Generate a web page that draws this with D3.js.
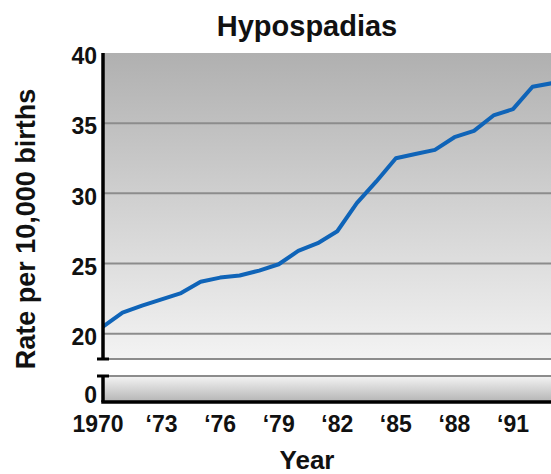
<!DOCTYPE html>
<html>
<head>
<meta charset="utf-8">
<script src="https://cdn.jsdelivr.net/npm/d3@7"></script>
<style>
body { margin: 0; background: #fff; }
text { font-family: "Liberation Sans", Arial, sans-serif; font-weight: bold; fill: #111; }
</style>
</head>
<body>
<div class="chart"></div>
<script>
var years = [1970, 1971, 1972, 1973, 1974, 1975, 1976, 1977, 1978, 1979, 1980, 1981,
	1982, 1983, 1984, 1985, 1986, 1987, 1988, 1989, 1990, 1991, 1992, 1993];
var rates = [20.5, 21.5, 22.0, 22.45, 22.9, 23.7, 24.0, 24.15, 24.5, 24.95, 25.9, 26.45,
	27.3, 29.3, 30.85, 32.5, 32.8, 33.1, 34.0, 34.45, 35.55, 36.0, 37.6, 37.85];
var xTicks = [1970, 1973, 1976, 1979, 1982, 1985, 1988, 1991];
var xTickLabels = ["1970", "\u201873", "\u201876", "\u201879", "\u201882", "\u201885", "\u201888", "\u201891"];
var yTicks = [20, 25, 30, 35, 40];
var yLowTicks = [0];

var width = 551;
var height = 474;
var left = 103, right = 551;

var svg = d3.select(".chart").append("svg")
	.attr("width", width)
	.attr("height", height);

var x = d3.scaleLinear().domain([1970, 1991]).range([left, 513]);
// upper panel (broken axis) and lower stub with zero
var y = d3.scaleLinear().domain([18.2, 40]).range([359, 53]);
var yLow = d3.scaleLinear().domain([0, 1]).range([402, 376]);

var defs = svg.append("defs");
var gUp = defs.append("linearGradient").attr("id", "gup")
	.attr("x1", 0).attr("y1", 0).attr("x2", 0).attr("y2", 1);
gUp.append("stop").attr("offset", "0%").attr("stop-color", "#b0b0b0");
gUp.append("stop").attr("offset", "100%").attr("stop-color", "#f3f3f3");
var gLow = defs.append("linearGradient").attr("id", "glow")
	.attr("x1", 0).attr("y1", 0).attr("x2", 0).attr("y2", 1);
gLow.append("stop").attr("offset", "0%").attr("stop-color", "#f4f4f4");
gLow.append("stop").attr("offset", "100%").attr("stop-color", "#b4b4b4");

// panels
svg.append("rect")
	.attr("x", left).attr("y", y(40))
	.attr("width", right - left).attr("height", y(18.2) - y(40))
	.attr("fill", "url(#gup)");
svg.append("rect")
	.attr("x", left).attr("y", yLow(1))
	.attr("width", right - left).attr("height", yLow(0) - yLow(1))
	.attr("fill", "url(#glow)");

// gridlines
svg.selectAll("line.grid")
	.data([20, 25, 30, 35, 18.2])
	.enter().append("line")
	.attr("class", "grid")
	.attr("x1", left).attr("x2", right)
	.attr("y1", function(d) { return y(d); })
	.attr("y2", function(d) { return y(d); })
	.attr("stroke", "#8c8c8c")
	.attr("stroke-width", 2);
svg.append("line")
	.attr("x1", left).attr("x2", right)
	.attr("y1", yLow(1)).attr("y2", yLow(1))
	.attr("stroke", "#8c8c8c")
	.attr("stroke-width", 2);

// data line
var line = d3.line()
	.x(function(d, i) { return x(years[i]); })
	.y(function(d) { return y(d); });
svg.append("path")
	.datum(rates)
	.attr("d", line)
	.attr("fill", "none")
	.attr("stroke", "#0f64b8")
	.attr("stroke-width", 4)
	.attr("stroke-linejoin", "round");

// axes
var axisCol = "#000";
svg.append("line")
	.attr("x1", left).attr("x2", left)
	.attr("y1", y(40)).attr("y2", y(18.2))
	.attr("stroke", axisCol).attr("stroke-width", 3.5);
svg.append("line")
	.attr("x1", left - 6).attr("x2", left + 6)
	.attr("y1", y(18.2)).attr("y2", y(18.2))
	.attr("stroke", axisCol).attr("stroke-width", 3);
svg.append("line")
	.attr("x1", left - 6).attr("x2", left + 6)
	.attr("y1", yLow(1)).attr("y2", yLow(1))
	.attr("stroke", axisCol).attr("stroke-width", 3);
svg.append("line")
	.attr("x1", left).attr("x2", left)
	.attr("y1", yLow(1)).attr("y2", yLow(0))
	.attr("stroke", axisCol).attr("stroke-width", 3.5);
svg.append("line")
	.attr("x1", left - 1.75).attr("x2", right)
	.attr("y1", yLow(0)).attr("y2", yLow(0))
	.attr("stroke", axisCol).attr("stroke-width", 3.5);

// y tick labels
svg.selectAll("text.ytick")
	.data(yTicks)
	.enter().append("text")
	.attr("class", "ytick")
	.attr("x", 97)
	.attr("y", function(d) { return y(d); })
	.attr("dy", "0.49em")
	.attr("text-anchor", "end")
	.style("font-size", "23px")
	.text(function(d) { return d; });
svg.selectAll("text.ylowtick")
	.data(yLowTicks)
	.enter().append("text")
	.attr("class", "ylowtick")
	.attr("x", 97)
	.attr("y", function(d) { return yLow(d); })
	.attr("dy", "0.06em")
	.attr("text-anchor", "end")
	.style("font-size", "23px")
	.text(function(d) { return d; });

// x tick labels
svg.selectAll("text.xtick")
	.data(xTicks)
	.enter().append("text")
	.attr("class", "xtick")
	.attr("x", function(d, i) { return x(d) - (i == 0 ? 5 : 0); })
	.attr("y", 432)
	.attr("text-anchor", "middle")
	.style("font-size", "23px")
	.text(function(d, i) { return xTickLabels[i]; });

// titles
svg.append("text")
	.attr("x", 307).attr("y", 36)
	.attr("text-anchor", "middle")
	.style("font-size", "29px")
	.text("Hypospadias");
svg.append("text")
	.attr("x", 307).attr("y", 469)
	.attr("text-anchor", "middle")
	.style("font-size", "26px")
	.text("Year");
svg.append("text")
	.attr("transform", "translate(35,229) rotate(-90)")
	.attr("text-anchor", "middle")
	.style("font-size", "27px")
	.text("Rate per 10,000 births");
</script>
</body>
</html>
